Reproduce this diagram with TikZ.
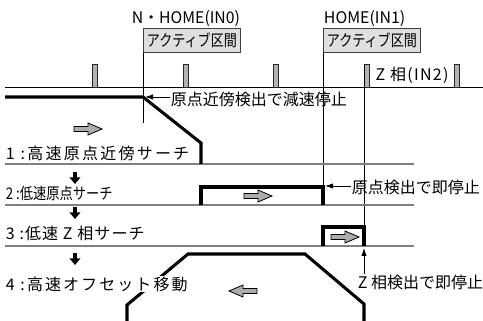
\documentclass[tikz,border=0pt]{standalone}
\usepackage{graphicx}
\usepackage{fontspec}
\setmainfont{Noto Sans CJK JP}
\usetikzlibrary{arrows.meta}

\begin{document}
\begin{tikzpicture}[x=0.75pt,y=-0.75pt,
	txt/.style={inner sep=0.5pt,font=\fontsize{12}{14}\selectfont},
	spaced/.style={txt,font=\fontsize{12}{14}\selectfont\addfontfeature{LetterSpace=#1}},
	sep/.style={draw=gray,line width=1pt},
	prof/.style={line width=2.3pt},
	thinline/.style={line width=0.6pt},
	pulse/.style={draw=black!85,fill=gray!60,line width=0.6pt},
	actbox/.style={txt,draw=black!75,fill=gray!25,line width=0.6pt,minimum width=72.75pt,minimum height=18pt,anchor=north west},
	grayarrow/.style={draw=black,fill=gray!65,line width=0.6pt},
	callout/.style={line width=0.6pt,-{Latex[length=6pt,width=4pt]}},
	steparrow/.style={line width=3.2pt,-{Triangle[length=5pt,width=8pt]}}
]
	\useasboundingbox (0,0) rectangle (483,321);

	%SIGNAL LINE AND PULSES
	\draw[thinline] (5,87)--(483,87);
	\foreach \x in {95,185.5,276,366.5,457}
		\filldraw[pulse] (\x-2.5,64) rectangle (\x+2.5,87);

	%ACTIVE BOXES
	\node[txt] (nhome) at (186,19) {\resizebox{81pt}{\height}{N・HOME(IN0)}};
	\node[txt,anchor=west] (home) at (323,19) {\resizebox{61pt}{\height}{HOME(IN1)}};
	\node[actbox] (box0) at (143,28) {\resizebox{67.5pt}{\height}{アクティブ区間}};
	\node[actbox] (box1) at (323,28) {\resizebox{67.5pt}{\height}{アクティブ区間}};
	\node[spaced=8] (zphase) at (412,75) {Z 相(IN2)};

	%VERTICAL LINES
	\coordinate (nend) at (143,123);
	\coordinate (hend) at (323,205);
	\coordinate (ztop) at (364,64);
	\coordinate (zend) at (364,227);
	\draw[thinline] (box0.south west)--(nend);
	\draw[thinline] (box1.south west)--(hend);
	\draw[thinline] (ztop)--(zend);

	%SEPARATORS
	\foreach \y in {164,205,246}
		\draw[sep] (5,\y)--(414,\y);

	%SPEED PROFILES
	\draw[prof] (5,97)--(143,97)--(201,143)--(201,164);
	\draw[prof] (201,205)--(201,187)--(323,187)--(323,205);
	\draw[prof] (323,246)--(323,227)--(364,227)--(364,246);
	\draw[prof] (127,321)--(127,305)--(188,254)--(305,254)--(364,304)--(364,321);

	%STAGE LABELS
	\node[spaced=14,anchor=west] (stage1) at (5,153) {1 :高速原点近傍サーチ};
	\node[txt,anchor=west] (stage2) at (5,193) {\resizebox{80pt}{\height}{2 :低速原点サーチ}};
	\node[spaced=7,anchor=west] (stage3) at (5,233) {3 :低速 Z 相サーチ};
	\node[spaced=13,anchor=west,fill=white] (stage4) at (5,284) {4 :高速オフセット移動};

	%GRAY ARROWS
	\foreach \cx/\cy/\dir in {88/129/1,258/196/1,345/237/1,243/291/-1}
		\draw[grayarrow,shift={(\cx,\cy)},xscale=\dir] (-14,-2.5)--(0,-2.5)--(0,-6)--(14,0)--(0,6)--(0,2.5)--(-14,2.5)--cycle;

	%STEP ARROWS
	\foreach \y in {172,207,253}
		\draw[steparrow] (75,\y)--(75,\y+12);

	%CALLOUTS
	\node[txt,anchor=west] (nstopnote) at (170,99) {原点近傍検出で減速停止};
	\coordinate (nstop) at (145,97);
	\draw[callout] (nstopnote.west |- nstop)--(nstop);
	\node[txt,anchor=west] (hstopnote) at (351,187) {原点検出で即停止};
	\coordinate (hstop) at (325,186);
	\draw[callout] (hstopnote.west |- hstop)--(hstop);
	\node[txt,anchor=west] (zstopnote) at (357,282) {Z 相検出で即停止};
	\coordinate (zstop) at (364,248);
	\draw[callout] (zstop |- zstopnote.north)--(zstop);
\end{tikzpicture}
\end{document}
